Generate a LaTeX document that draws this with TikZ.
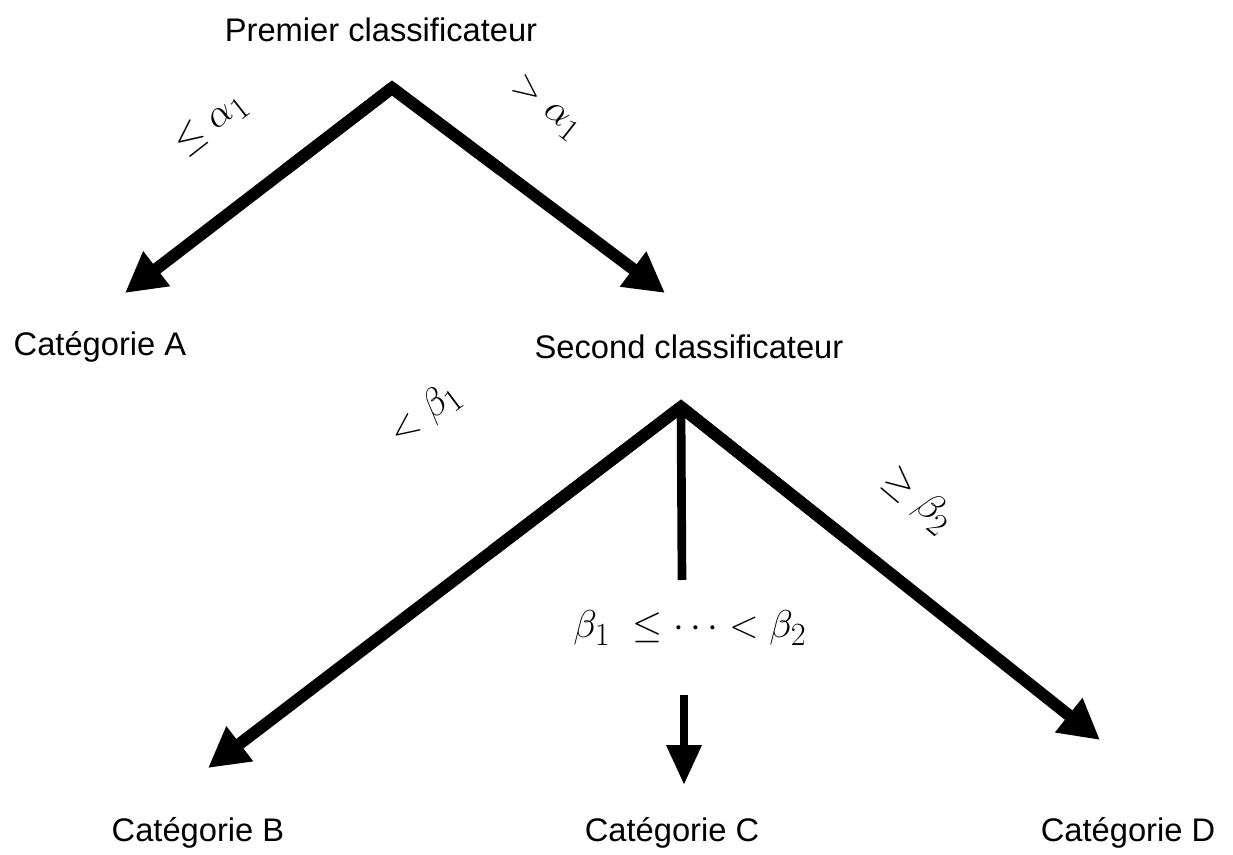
\documentclass[tikz,border=0pt]{standalone}
\usepackage{fontspec}
\setmainfont{Liberation Sans}
\usetikzlibrary{arrows.meta,calc}
\newcommand{\condtxt}[1]{\scalebox{1.17}{$#1$}}
\begin{document}
\begin{tikzpicture}[x=0.75pt,y=-0.75pt,
  lbl/.style={font=\fontsize{24.5}{29}\selectfont, inner sep=0pt},
  cond/.style={font=\fontsize{24.88}{30}\selectfont, inner sep=0pt},
  thick arrow/.style={line width=9pt, -{Triangle[length=30pt,width=31pt]}},
  thin arrow/.style={line width=6.5pt, -{Triangle[length=30pt,width=25pt]}}]
\useasboundingbox (0,0) rectangle (1233,855);
% texts
\node[lbl] (p1) at (381,30) {Premier classificateur};
\node[lbl] (ca) at (100,347) {Catégorie A};
\node[lbl] (p2) at (689,347) {Second classificateur};
\node[lbl] (cb) at (198,833) {Catégorie B};
\node[lbl] (cc) at (672,833) {Catégorie C};
\node[lbl] (cd) at (1128,833) {Catégorie D};
% apexes and tips
\coordinate (a1) at (392,88);
\coordinate (tA) at (125,293);
\coordinate (tB1) at (665,293);
\coordinate (a2) at (681,407);
\coordinate (tB) at (208,768);
\coordinate (tD) at (1100,740);
\coordinate (mEnd) at (682,580);
\coordinate (mStart) at (684,695);
\coordinate (tC) at (684,785);
% connectors
\draw[line width=9pt, line join=miter] ($(a1)!0.4!(tA)$) -- (a1) -- ($(a1)!0.4!(tB1)$);
\draw[thick arrow] (a1) -- (tA);
\draw[thick arrow] (a1) -- (tB1);
\draw[line width=9pt, line join=miter] ($(a2)!0.4!(tB)$) -- (a2) -- ($(a2)!0.4!(tD)$);
\draw[thick arrow] (a2) -- (tB);
\draw[thick arrow] (a2) -- (tD);
\draw[line width=6.5pt] (a2) -- (mEnd);
\draw[thin arrow] (mStart) -- (tC);
% condition labels
\node[cond, rotate=38] (l1) at (211,124) {\condtxt{\leq\alpha_1}};
\node[cond, rotate=-38] (l2) at (546,108) {\condtxt{>\alpha_1}};
\node[cond, rotate=37] (l3) at (425,414) {\condtxt{<\beta_1}};
\node[cond, rotate=-40] (l4) at (918,500) {\condtxt{\geq\beta_2}};
\node[cond] (l5) at (690,628) {\condtxt{\beta_1\ \leq\cdots<\beta_2}};
\end{tikzpicture}
\end{document}
